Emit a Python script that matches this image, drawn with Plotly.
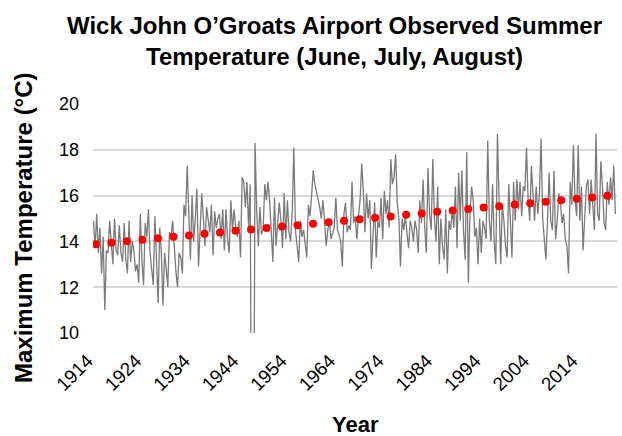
import plotly.graph_objects as go

# ---- data -------------------------------------------------------------
years = list(range(1914, 2022))          # one entry per year, 3 summer months each
months = ["Jun", "Jul", "Aug"]

# observed monthly maximum temperature (degC), Jun/Jul/Aug for each year in order
tmax = [
    14.9, 13.7, 15.2, 13.5, 14.6, 12.6, 14.2, 11.0, 13.6, 13.5,
    14.9, 14.0, 13.0, 15.0, 13.6, 13.4, 14.7, 13.5, 13.1, 14.8,
    13.2, 12.6, 14.9, 13.1, 14.0, 13.6, 12.7, 13.0, 12.2, 15.2,
    13.1, 12.1, 14.8, 14.2, 15.4, 13.5, 12.9, 12.1, 15.1, 13.5,
    11.3, 14.6, 13.5, 11.2, 13.5, 12.8, 12.0, 14.4, 14.2, 14.9,
    13.5, 12.7, 12.0, 13.5, 13.3, 12.6, 15.6, 15.1, 17.3, 15.6,
    13.2, 16.0, 14.0, 15.0, 16.3, 12.9, 14.3, 16.1, 15.0, 13.8,
    15.5, 14.8, 14.4, 15.6, 13.4, 15.3, 14.6, 15.0, 15.2, 14.1,
    15.4, 13.6, 15.4, 14.1, 13.5, 15.8, 14.5, 15.4, 14.6, 14.2,
    14.9, 13.3, 16.8, 16.6, 15.5, 16.6, 14.6, 16.5, 0.0, 0.0,
    18.3, 15.4, 13.8, 15.5, 14.3, 14.5, 16.5, 15.8, 16.6, 15.8,
    14.5, 13.1, 15.9, 13.8, 14.8, 15.7, 14.9, 13.7, 16.1, 14.1,
    15.8, 14.4, 14.0, 15.3, 18.1, 14.5, 13.8, 13.1, 14.9, 14.2,
    14.5, 13.9, 13.3, 15.6, 15.1, 16.0, 17.1, 16.5, 16.2, 15.9,
    15.5, 15.0, 15.8, 14.9, 13.8, 14.5, 14.9, 14.1, 14.4, 14.6,
    15.9, 14.5, 14.3, 14.0, 12.9, 15.2, 15.7, 14.4, 14.7, 14.5,
    16.6, 14.8, 15.1, 14.1, 15.1, 15.8, 17.4, 16.2, 14.4, 16.1,
    15.0, 15.8, 12.8, 14.5, 15.7, 13.3, 14.9, 14.6, 15.9, 14.1,
    16.2, 15.2, 15.8, 14.6, 17.6, 16.5, 16.8, 17.8, 15.7, 15.0,
    12.9, 15.0, 14.5, 15.1, 14.2, 13.7, 14.9, 14.6, 14.0, 14.9,
    14.5, 13.5, 15.8, 14.8, 16.7, 14.6, 13.5, 17.2, 15.2, 14.5,
    17.6, 15.0, 14.0, 16.4, 13.0, 15.0, 13.8, 13.2, 15.4, 12.6,
    14.9, 14.5, 15.4, 14.6, 16.4, 13.7, 17.0, 14.9, 17.1, 14.5,
    13.2, 17.9, 12.2, 15.2, 16.4, 15.8, 14.2, 14.6, 13.0, 15.0,
    13.5, 14.9, 14.6, 14.1, 18.4, 14.9, 14.0, 16.5, 14.0, 13.0,
    18.7, 15.6, 13.0, 15.6, 14.9, 13.8, 13.3, 16.5, 14.8, 13.3,
    16.6, 14.9, 16.7, 15.4, 16.6, 15.1, 16.4, 16.2, 18.1, 15.8,
    14.9, 17.3, 16.1, 14.9, 16.4, 15.2, 16.1, 18.5, 15.0, 14.1,
    13.2, 14.9, 17.0, 14.9, 14.5, 17.1, 14.1, 14.9, 16.1, 15.7,
    14.8, 15.2, 14.1, 13.8, 12.6, 16.6, 15.6, 18.2, 15.9, 15.1,
    18.2, 14.9, 16.4, 13.6, 14.9, 16.4, 16.7, 15.2, 16.7, 15.5,
    14.5, 18.7, 15.2, 14.9, 17.5, 16.4, 14.8, 14.5, 16.6, 15.6,
    16.8, 15.8, 17.3, 15.2,
]

# linear trend markers (decimal year, degC)
trend_year = [
    1914.5, 1917.7, 1920.9, 1924.1, 1927.3, 1930.5, 1933.7, 1936.9, 1940.1, 1943.3,
    1946.5, 1949.7, 1952.9, 1956.1, 1959.3, 1962.5, 1965.7, 1968.9, 1972.1, 1975.3,
    1978.5, 1981.7, 1984.9, 1988.1, 1991.3, 1994.5, 1997.7, 2000.9, 2004.1, 2007.3,
    2010.5, 2013.7, 2016.9, 2020.0,
]
trend_temp = [
    13.88, 13.94, 14.01, 14.07, 14.14, 14.20, 14.26, 14.33, 14.39, 14.46,
    14.52, 14.58, 14.65, 14.71, 14.77, 14.84, 14.90, 14.97, 15.03, 15.09,
    15.16, 15.22, 15.29, 15.35, 15.41, 15.48, 15.54, 15.61, 15.67, 15.73,
    15.80, 15.86, 15.92, 15.99,
]

tick_years = list(range(1914, 2022, 10))
y_ticks = [10, 12, 14, 16, 18, 20]

# ---- build ------------------------------------------------------------
x_obs = [y + m / len(months) for y in years for m in range(len(months))]

FONT = "Liberation Sans"
W, H = 622, 436
L, R, T, B = 93, 5, 104, 103
PW, PH = W - L - R, H - T - B

fig = go.Figure()
fig.add_trace(go.Scatter(
    x=x_obs, y=tmax, mode="lines",
    line=dict(color="#7a7a7a", width=1.3),
    showlegend=False, hoverinfo="skip",
))
fig.add_trace(go.Scatter(
    x=trend_year, y=trend_temp, mode="markers",
    marker=dict(color="#ff0000", size=8),
    showlegend=False,
))

fig.update_layout(
    width=W, height=H,
    margin=dict(l=L, r=R, t=T, b=B),
    paper_bgcolor="white", plot_bgcolor="white",
    font=dict(family=FONT, color="black"),
    xaxis=dict(
        range=[1913.9, 2022.0],
        tickmode="array", tickvals=tick_years, ticktext=[str(t) for t in tick_years],
        tickangle=-45, tickfont=dict(size=19, family=FONT),
        showgrid=False, zeroline=False, showline=False, ticks="",
        ticklabelstandoff=12, ticklabelshift=-6,
    ),
    yaxis=dict(
        range=[10, 20],
        tickmode="array", tickvals=y_ticks,
        tickfont=dict(size=18, family=FONT),
        showgrid=True, gridcolor="#d9d9d9", gridwidth=1.5,
        zeroline=False, showline=False, ticks="",
        ticklabelstandoff=13,
    ),
    annotations=[
        dict(text="<b>Wick John O\u2019Groats Airport Observed Summer<br>Temperature (June, July, August)</b>",
             xref="paper", yref="paper",
             x=(334 - L) / PW, y=(H - B - 10) / PH,
             xanchor="center", yanchor="top", align="center", showarrow=False,
             font=dict(size=24, family=FONT)),
        dict(text="<b>Maximum Temperature (\u00b0C)</b>", textangle=-90,
             xref="paper", yref="paper",
             x=(23 - L) / PW, y=(H - B - 228) / PH,
             xanchor="center", yanchor="middle", showarrow=False,
             font=dict(size=24, family=FONT)),
        dict(text="<b>Year</b>",
             xref="paper", yref="paper",
             x=(355 - L) / PW, y=(H - B - 424) / PH,
             xanchor="center", yanchor="middle", showarrow=False,
             font=dict(size=22, family=FONT)),
    ],
)

fig.write_html("out.html")
